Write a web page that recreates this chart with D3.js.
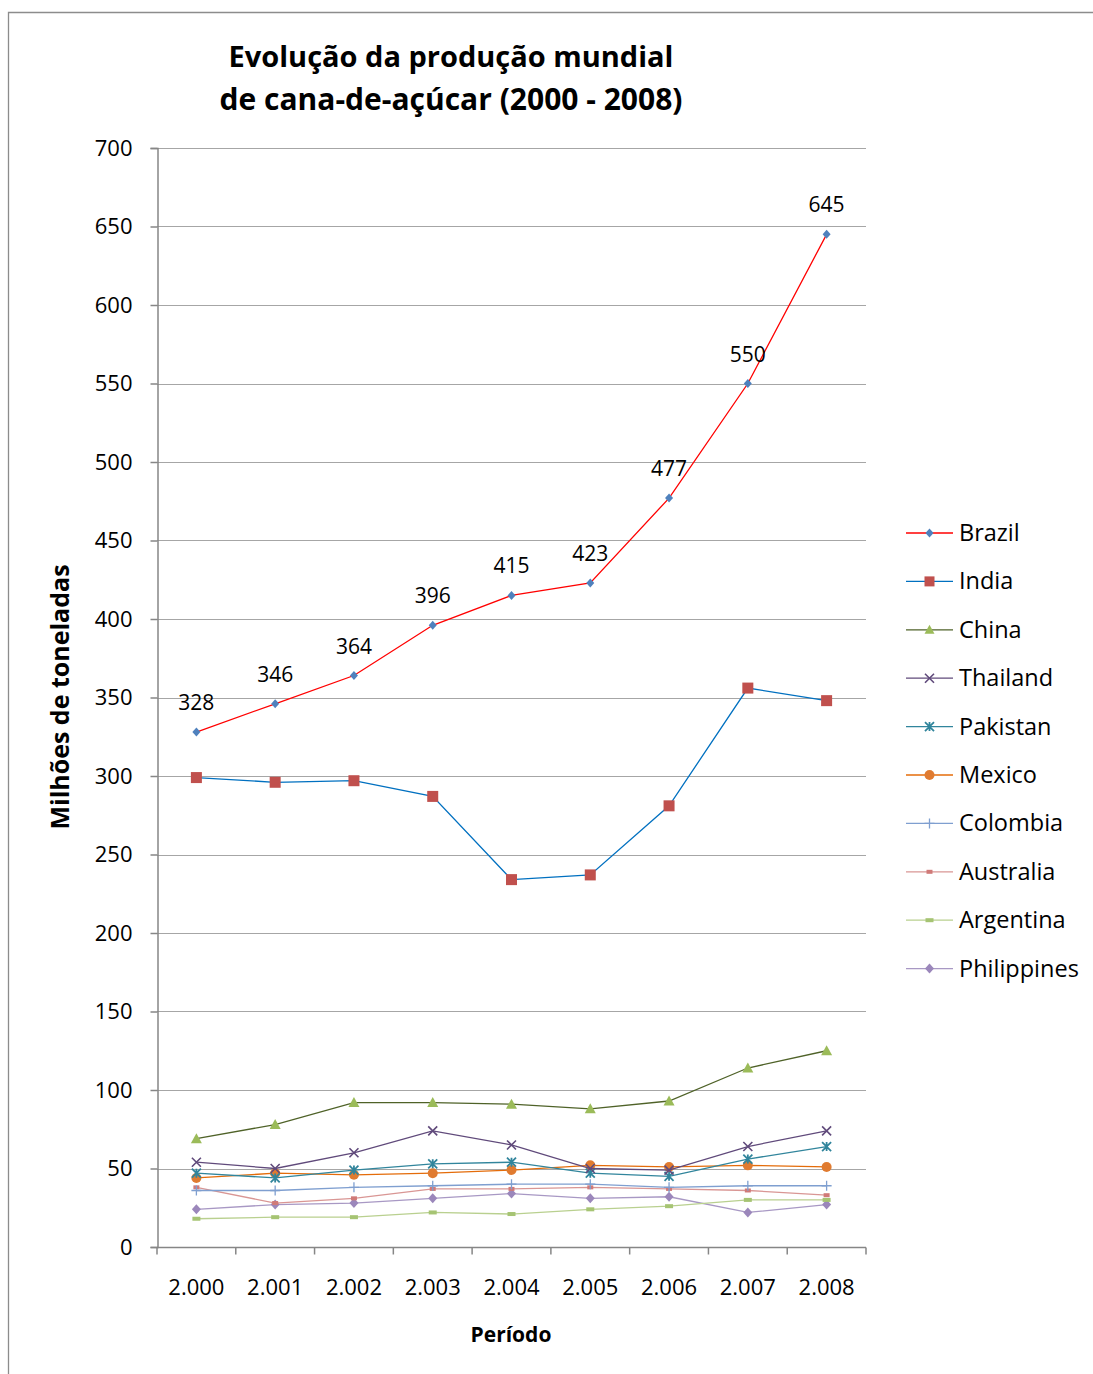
<!DOCTYPE html>
<html>
<head>
<meta charset="utf-8">
<script src="https://cdn.jsdelivr.net/npm/d3@7"></script>
<style>
  html, body { margin: 0; padding: 0; background: #fff; }
  svg { display: block; }
  text { font-family: "Open Sans", "Liberation Sans", sans-serif; fill: #000; }
</style>
</head>
<body>
<svg id="chart" width="1093" height="1374"></svg>
<script>
// Sugar-cane production by country, millions of tonnes
const years = ["2.000", "2.001", "2.002", "2.003", "2.004", "2.005", "2.006", "2.007", "2.008"];
const brazil      = [328, 346, 364, 396, 415, 423, 477, 550, 645];
const india       = [299, 296, 297, 287, 234, 237, 281, 356, 348];
const china       = [69, 78, 92, 92, 91, 88, 93, 114, 125];
const thailand    = [54, 50, 60, 74, 65, 50, 49, 64, 74];
const pakistan    = [47, 44, 49, 53, 54, 47, 45, 56, 64];
const mexico      = [44, 47, 46, 47, 49, 52, 51, 52, 51];
const colombia    = [36, 36, 38, 39, 40, 40, 38, 39, 39];
const australia   = [38, 28, 31, 37, 37, 38, 37, 36, 33];
const argentina   = [18, 19, 19, 22, 21, 24, 26, 30, 30];
const philippines = [24, 27, 28, 31, 34, 31, 32, 22, 27];
const yTicks = [0, 50, 100, 150, 200, 250, 300, 350, 400, 450, 500, 550, 600, 650, 700];

const series = [
  { name: "Brazil",      values: brazil,      line: "#FF0000", fill: "#4F81BD", shape: "diamond", size: 8,  labels: true },
  { name: "India",       values: india,       line: "#0070C0", fill: "#C0504D", shape: "square",  size: 11 },
  { name: "China",       values: china,       line: "#4F6228", fill: "#9BBB59", shape: "triangle", size: 11 },
  { name: "Thailand",    values: thailand,    line: "#604A7B", fill: "#604A7B", shape: "x",       size: 9 },
  { name: "Pakistan",    values: pakistan,    line: "#31859C", fill: "#31859C", shape: "star",    size: 9 },
  { name: "Mexico",      values: mexico,      line: "#E46C0A", fill: "#E07B30", shape: "circle",  size: 10 },
  { name: "Colombia",    values: colombia,    line: "#7F9FD0", fill: "#7F9FD0", shape: "plus",    size: 10 },
  { name: "Australia",   values: australia,   line: "#D99694", fill: "#D07A78", shape: "dash",    size: 6 },
  { name: "Argentina",   values: argentina,   line: "#B9D08F", fill: "#A6C473", shape: "bar",     size: 8 },
  { name: "Philippines", values: philippines, line: "#A898C4", fill: "#9B87BB", shape: "diamond", size: 9 }
];

const svg = d3.select("#chart");

// outer chart frame
svg.append("path")
  .attr("d", "M8.5,1374 L8.5,12.5 L1093,12.5")
  .attr("fill", "none").attr("stroke", "#8c8c8c").attr("stroke-width", 1.3);

const plot = { left: 157, right: 866, top: 148, bottom: 1247 };

const x = d3.scaleBand().domain(years).range([plot.left, plot.right]);
const y = d3.scaleLinear().domain([0, 700]).range([plot.bottom, plot.top]);
const cx = d => x(d) + x.bandwidth() / 2;

// title
const title = svg.append("text").attr("text-anchor", "middle")
  .style("font-weight", "bold").style("font-size", "29px");
title.append("tspan").attr("x", 451).attr("y", 67).text("Evolução da produção mundial");
title.append("tspan").attr("x", 451).attr("y", 110).style("font-size", "30px").text("de cana-de-açúcar (2000 - 2008)");

// gridlines
svg.append("g").selectAll("line").data(yTicks.filter(t => t > 0)).join("line")
  .attr("x1", plot.left).attr("x2", plot.right)
  .attr("y1", d => Math.round(y(d)) + 0.5).attr("y2", d => Math.round(y(d)) + 0.5)
  .attr("stroke", "#a6a6a6").attr("stroke-width", 1);

// y axis
const yAxis = svg.append("g").attr("transform", `translate(${plot.left + 0.5},0)`)
  .call(d3.axisLeft(y).tickValues(yTicks).tickSize(7).tickPadding(18).tickFormat(d3.format("d")));
yAxis.select(".domain").attr("stroke", "#868686").attr("stroke-width", 1.5);
yAxis.selectAll(".tick line").attr("stroke", "#868686").attr("stroke-width", 1.5);
yAxis.selectAll(".tick text").style("font-size", "22px").style("font-family", "'Open Sans', sans-serif")
  .attr("fill", "#000").attr("dy", "0.34em");

// x axis with ticks between categories
const xAxis = svg.append("g").attr("transform", `translate(0,${plot.bottom + 0.5})`);
xAxis.append("line").attr("x1", plot.left).attr("x2", plot.right)
  .attr("stroke", "#868686").attr("stroke-width", 1.5);
const bounds = years.map(d => x(d)).concat([plot.right]);
xAxis.selectAll("line.tk").data(bounds).join("line").attr("class", "tk")
  .attr("x1", d => d).attr("x2", d => d).attr("y1", 0).attr("y2", 7)
  .attr("stroke", "#868686").attr("stroke-width", 1.5);
xAxis.selectAll("text").data(years).join("text")
  .attr("x", d => cx(d)).attr("y", 47).attr("text-anchor", "middle")
  .style("font-size", "22px").text(d => d);

// axis titles
svg.append("text").attr("x", 511).attr("y", 1342).attr("text-anchor", "middle")
  .style("font-weight", "bold").style("font-size", "21px").text("Período");
svg.append("text").attr("transform", "translate(69,697) rotate(-90)").attr("text-anchor", "middle")
  .style("font-weight", "bold").style("font-size", "25px").text("Milhões de toneladas");

// marker drawing
function marker(g, s, px, py) {
  const r = s.size / 2;
  switch (s.shape) {
    case "diamond":
      g.append("path").attr("d", `M${px},${py - r - 0.5}L${px + r},${py}L${px},${py + r + 0.5}L${px - r},${py}Z`).attr("fill", s.fill);
      break;
    case "square":
      g.append("rect").attr("x", px - r).attr("y", py - r).attr("width", s.size).attr("height", s.size).attr("fill", s.fill);
      break;
    case "triangle":
      g.append("path").attr("d", `M${px},${py - r}L${px + r},${py + r - 1}L${px - r},${py + r - 1}Z`).attr("fill", s.fill);
      break;
    case "circle":
      g.append("circle").attr("cx", px).attr("cy", py).attr("r", r).attr("fill", s.fill);
      break;
    case "x":
      g.append("path").attr("d", `M${px - r},${py - r}L${px + r},${py + r}M${px + r},${py - r}L${px - r},${py + r}`)
        .attr("stroke", s.fill).attr("stroke-width", 1.6);
      break;
    case "star":
      g.append("path").attr("d", `M${px - r},${py - r}L${px + r},${py + r}M${px + r},${py - r}L${px - r},${py + r}M${px},${py - r}L${px},${py + r}`)
        .attr("stroke", s.fill).attr("stroke-width", 1.8);
      break;
    case "plus":
      g.append("path").attr("d", `M${px - r},${py}L${px + r},${py}M${px},${py - r}L${px},${py + r}`)
        .attr("stroke", s.fill).attr("stroke-width", 1.3);
      break;
    case "dash":
      g.append("rect").attr("x", px - r).attr("y", py - 2).attr("width", s.size).attr("height", 4).attr("fill", s.fill);
      break;
    case "bar":
      g.append("rect").attr("x", px - r).attr("y", py - 2).attr("width", s.size).attr("height", 4).attr("fill", s.fill);
      break;
  }
}

const line = d3.line().x((d, i) => cx(years[i])).y(d => y(d));

// draw series from last to first so the leaders sit on top
const plotG = svg.append("g");
series.slice().reverse().forEach(s => {
  const g = plotG.append("g");
  g.append("path").datum(s.values).attr("d", line)
    .attr("fill", "none").attr("stroke", s.line).attr("stroke-width", 1.3);
  s.values.forEach((v, i) => marker(g, s, cx(years[i]), y(v)));
  if (s.labels) {
    g.selectAll("text").data(s.values).join("text")
      .attr("x", (d, i) => cx(years[i])).attr("y", d => y(d) - 22)
      .attr("text-anchor", "middle").style("font-size", "21px").text(d => d);
  }
});

// legend
const legend = svg.append("g");
series.forEach((s, i) => {
  const ly = 533 + i * 48.4;
  const g = legend.append("g");
  g.append("line").attr("x1", 906).attr("x2", 953).attr("y1", ly).attr("y2", ly)
    .attr("stroke", s.line).attr("stroke-width", 1.3);
  marker(g, Object.assign({}, s, { size: Math.min(s.size, 10) }), 929.5, ly);
  g.append("text").attr("x", 959).attr("y", ly + 8).style("font-size", "23.5px").text(s.name);
});
</script>
</body>
</html>
